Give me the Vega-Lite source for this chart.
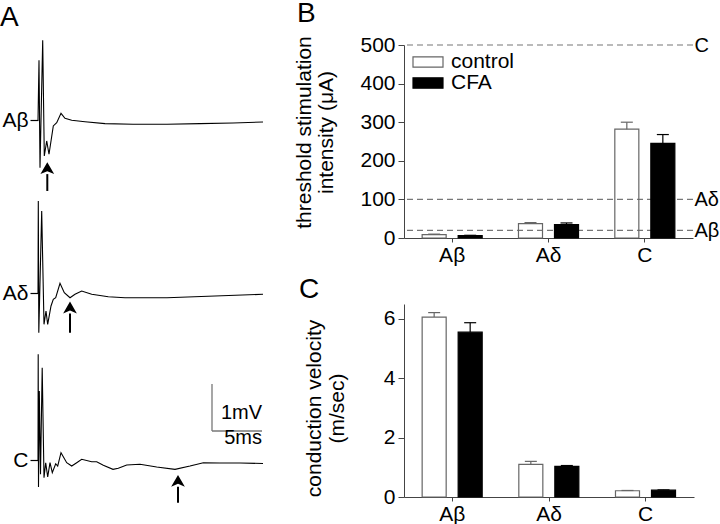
{
  "$schema": "https://vega.github.io/schema/vega-lite/v6.json",
  "padding": 0,
  "background": "white",
  "config": {
    "font": "Liberation Sans",
    "view": {"stroke": null},
    "title": {"fontSize": 28, "fontWeight": "normal", "anchor": "start", "frame": "group", "color": "black"},
    "axis": {"labelColor": "black", "titleColor": "black", "titleFontWeight": "normal", "grid": false}
  },
  "datasets": {
    "traces": [
      {"fiber": "Aβ", "t": 0, "v": 0}, {"fiber": "Aβ", "t": 0.1, "v": 1.277}, {"fiber": "Aβ", "t": 0.2, "v": -1.009},
      {"fiber": "Aβ", "t": 0.47, "v": 1.702}, {"fiber": "Aβ", "t": 0.63, "v": -0.76}, {"fiber": "Aβ", "t": 0.87, "v": -0.44},
      {"fiber": "Aβ", "t": 1.1, "v": -0.723}, {"fiber": "Aβ", "t": 1.53, "v": -0.121}, {"fiber": "Aβ", "t": 1.87, "v": -0.051},
      {"fiber": "Aβ", "t": 2.3, "v": 0.149}, {"fiber": "Aβ", "t": 2.7, "v": 0.043}, {"fiber": "Aβ", "t": 3.37, "v": 0},
      {"fiber": "Aβ", "t": 4.7, "v": -0.03}, {"fiber": "Aβ", "t": 6.7, "v": -0.072}, {"fiber": "Aβ", "t": 9.5, "v": -0.085},
      {"fiber": "Aβ", "t": 12.9, "v": -0.085}, {"fiber": "Aβ", "t": 16.2, "v": -0.072}, {"fiber": "Aβ", "t": 19.5, "v": -0.057},
      {"fiber": "Aβ", "t": 22.5, "v": -0.036},
      {"fiber": "Aδ", "t": 0, "v": 0}, {"fiber": "Aδ", "t": 0.03, "v": 1.964}, {"fiber": "Aδ", "t": 0.08, "v": -0.838},
      {"fiber": "Aδ", "t": 0.37, "v": 1.751}, {"fiber": "Aδ", "t": 0.6, "v": -0.66}, {"fiber": "Aδ", "t": 0.8, "v": -0.377},
      {"fiber": "Aδ", "t": 0.97, "v": -0.66}, {"fiber": "Aδ", "t": 1.3, "v": -0.27}, {"fiber": "Aδ", "t": 1.53, "v": -0.128},
      {"fiber": "Aδ", "t": 1.77, "v": -0.094}, {"fiber": "Aδ", "t": 2.2, "v": 0.213}, {"fiber": "Aδ", "t": 2.63, "v": 0.013},
      {"fiber": "Aδ", "t": 3.2, "v": -0.094}, {"fiber": "Aδ", "t": 3.7, "v": -0.021}, {"fiber": "Aδ", "t": 4.37, "v": 0.049},
      {"fiber": "Aδ", "t": 5.37, "v": -0.021}, {"fiber": "Aδ", "t": 7.03, "v": -0.072}, {"fiber": "Aδ", "t": 8.7, "v": -0.094},
      {"fiber": "Aδ", "t": 12.9, "v": -0.094}, {"fiber": "Aδ", "t": 17.7, "v": -0.057}, {"fiber": "Aδ", "t": 22.5, "v": -0.021},
      {"fiber": "C", "t": 0, "v": 0}, {"fiber": "C", "t": 0.02, "v": 2.249}, {"fiber": "C", "t": 0.05, "v": -0.574},
      {"fiber": "C", "t": 0.13, "v": 1.468}, {"fiber": "C", "t": 0.25, "v": -0.3}, {"fiber": "C", "t": 0.42, "v": 1.964},
      {"fiber": "C", "t": 0.6, "v": -0.377}, {"fiber": "C", "t": 0.77, "v": -0.057}, {"fiber": "C", "t": 0.97, "v": -0.362},
      {"fiber": "C", "t": 1.2, "v": -0.057}, {"fiber": "C", "t": 1.43, "v": -0.27}, {"fiber": "C", "t": 1.77, "v": -0.079},
      {"fiber": "C", "t": 1.97, "v": -0.128}, {"fiber": "C", "t": 2.3, "v": 0.155}, {"fiber": "C", "t": 2.87, "v": -0.057},
      {"fiber": "C", "t": 3.37, "v": -0.128}, {"fiber": "C", "t": 3.87, "v": -0.057}, {"fiber": "C", "t": 4.37, "v": 0.015},
      {"fiber": "C", "t": 5.37, "v": -0.036}, {"fiber": "C", "t": 5.87, "v": -0.036}, {"fiber": "C", "t": 6.53, "v": -0.113},
      {"fiber": "C", "t": 7.5, "v": -0.198}, {"fiber": "C", "t": 8.03, "v": -0.177}, {"fiber": "C", "t": 8.87, "v": -0.106},
      {"fiber": "C", "t": 10.2, "v": -0.091}, {"fiber": "C", "t": 11.87, "v": -0.149}, {"fiber": "C", "t": 13.7, "v": -0.198},
      {"fiber": "C", "t": 15.2, "v": -0.128}, {"fiber": "C", "t": 16.53, "v": -0.057}, {"fiber": "C", "t": 18.2, "v": -0.064},
      {"fiber": "C", "t": 20.2, "v": -0.064}, {"fiber": "C", "t": 22.5, "v": -0.074}
    ],
    "arrows": [
      {"fiber": "Aβ", "t": 0.93, "base": -1.145, "bottom": -1.504},
      {"fiber": "Aδ", "t": 3.2, "base": -0.428, "bottom": -0.838},
      {"fiber": "C", "t": 14.0, "base": -0.568, "bottom": -0.909}
    ],
    "scalebar": [
      {"t": 17.4, "t2": 17.4, "v": 0.617, "v2": 1.617},
      {"t": 17.4, "t2": 22.4, "v": 0.617, "v2": 0.617}
    ],
    "scalelabels": [
      {"t": 22.4, "v": 0.866, "label": "1mV"},
      {"t": 22.4, "v": 0.334, "label": "5ms"}
    ],
    "threshold": [
      {"fiber": "Aβ", "group": "control", "value": 9, "upper": 10},
      {"fiber": "Aβ", "group": "CFA", "value": 6, "upper": 7},
      {"fiber": "Aδ", "group": "control", "value": 37, "upper": 40},
      {"fiber": "Aδ", "group": "CFA", "value": 35, "upper": 39},
      {"fiber": "C", "group": "control", "value": 282, "upper": 300},
      {"fiber": "C", "group": "CFA", "value": 245, "upper": 268}
    ],
    "levels": [
      {"level": 20, "label": "Aβ"},
      {"level": 100, "label": "Aδ"},
      {"level": 500, "label": "C"}
    ],
    "velocity": [
      {"fiber": "Aβ", "group": "control", "value": 6.06, "upper": 6.21},
      {"fiber": "Aβ", "group": "CFA", "value": 5.55, "upper": 5.87},
      {"fiber": "Aδ", "group": "control", "value": 1.1, "upper": 1.2},
      {"fiber": "Aδ", "group": "CFA", "value": 1.03, "upper": 1.06},
      {"fiber": "C", "group": "control", "value": 0.21, "upper": 0.22},
      {"fiber": "C", "group": "CFA", "value": 0.23, "upper": 0.24}
    ]
  },
  "hconcat": [
    {
      "vconcat": [
        {
          "width": 225, "height": 151,
          "title": {"text": "A", "dx": -38, "offset": 6},
          "layer": [
            {
              "data": {"name": "traces"}, "transform": [{"filter": "datum.fiber === 'Aβ'"}],
              "mark": {"type": "line", "color": "black", "strokeWidth": 1.1, "clip": false},
              "encoding": {
                "x": {"field": "t", "type": "quantitative", "scale": {"domain": [0, 22.5], "nice": false, "zero": false}, "axis": null},
                "y": {"field": "v", "type": "quantitative", "scale": {"domain": [-1.611, 1.602], "nice": false, "zero": false},
                  "axis": {"values": [0], "labelExpr": "'Aβ'", "title": null, "domain": false, "ticks": true, "tickSize": 8, "tickColor": "black", "tickWidth": 1.2, "labelFontSize": 21, "labelPadding": 2}}
              }
            },
            {
              "data": {"name": "arrows"}, "transform": [{"filter": "datum.fiber === 'Aβ'"}],
              "mark": {"type": "rule", "color": "black", "strokeWidth": 2},
              "encoding": {
                "x": {"field": "t", "type": "quantitative", "axis": null},
                "y": {"field": "base", "type": "quantitative", "axis": null},
                "y2": {"field": "bottom"}
              }
            },
            {
              "data": {"name": "arrows"}, "transform": [{"filter": "datum.fiber === 'Aβ'"}],
              "mark": {"type": "point", "shape": "M0,-1L0.58,0L0,-0.25L-0.58,0Z", "filled": true, "color": "black", "opacity": 1, "size": 560},
              "encoding": {
                "x": {"field": "t", "type": "quantitative", "axis": null},
                "y": {"field": "base", "type": "quantitative", "axis": null}
              }
            }
          ],
          "resolve": {"axis": {"x": "independent", "y": "independent"}}
        },
        {
          "width": 225, "height": 150,
          "layer": [
            {
              "data": {"name": "traces"}, "transform": [{"filter": "datum.fiber === 'Aδ'"}],
              "mark": {"type": "line", "color": "black", "strokeWidth": 1.1, "clip": false},
              "encoding": {
                "x": {"field": "t", "type": "quantitative", "scale": {"domain": [0, 22.5], "nice": false, "zero": false}, "axis": null},
                "y": {"field": "v", "type": "quantitative", "scale": {"domain": [-1.121, 2.07], "nice": false, "zero": false},
                  "axis": {"values": [0], "labelExpr": "'Aδ'", "title": null, "domain": false, "ticks": true, "tickSize": 8, "tickColor": "black", "tickWidth": 1.2, "labelFontSize": 21, "labelPadding": 2}}
              }
            },
            {
              "data": {"name": "arrows"}, "transform": [{"filter": "datum.fiber === 'Aδ'"}],
              "mark": {"type": "rule", "color": "black", "strokeWidth": 2},
              "encoding": {
                "x": {"field": "t", "type": "quantitative", "axis": null},
                "y": {"field": "base", "type": "quantitative", "axis": null},
                "y2": {"field": "bottom"}
              }
            },
            {
              "data": {"name": "arrows"}, "transform": [{"filter": "datum.fiber === 'Aδ'"}],
              "mark": {"type": "point", "shape": "M0,-1L0.58,0L0,-0.25L-0.58,0Z", "filled": true, "color": "black", "opacity": 1, "size": 560},
              "encoding": {
                "x": {"field": "t", "type": "quantitative", "axis": null},
                "y": {"field": "base", "type": "quantitative", "axis": null}
              }
            }
          ],
          "resolve": {"axis": {"x": "independent", "y": "independent"}}
        },
        {
          "width": 225, "height": 170,
          "layer": [
            {
              "data": {"name": "traces"}, "transform": [{"filter": "datum.fiber === 'C'"}],
              "mark": {"type": "line", "color": "black", "strokeWidth": 1.1, "clip": false},
              "encoding": {
                "x": {"field": "t", "type": "quantitative", "scale": {"domain": [0, 22.5], "nice": false, "zero": false}, "axis": null},
                "y": {"field": "v", "type": "quantitative", "scale": {"domain": [-1.191, 2.426], "nice": false, "zero": false},
                  "axis": {"values": [0], "labelExpr": "'C'", "title": null, "domain": false, "ticks": true, "tickSize": 8, "tickColor": "black", "tickWidth": 1.2, "labelFontSize": 21, "labelPadding": 2}}
              }
            },
            {
              "data": {"name": "arrows"}, "transform": [{"filter": "datum.fiber === 'C'"}],
              "mark": {"type": "rule", "color": "black", "strokeWidth": 2},
              "encoding": {
                "x": {"field": "t", "type": "quantitative", "axis": null},
                "y": {"field": "base", "type": "quantitative", "axis": null},
                "y2": {"field": "bottom"}
              }
            },
            {
              "data": {"name": "arrows"}, "transform": [{"filter": "datum.fiber === 'C'"}],
              "mark": {"type": "point", "shape": "M0,-1L0.58,0L0,-0.25L-0.58,0Z", "filled": true, "color": "black", "opacity": 1, "size": 560},
              "encoding": {
                "x": {"field": "t", "type": "quantitative", "axis": null},
                "y": {"field": "base", "type": "quantitative", "axis": null}
              }
            },
            {
              "data": {"name": "scalebar"},
              "mark": {"type": "rule", "color": "#777777", "strokeWidth": 1.3},
              "encoding": {
                "x": {"field": "t", "type": "quantitative", "axis": null},
                "x2": {"field": "t2"},
                "y": {"field": "v", "type": "quantitative", "axis": null},
                "y2": {"field": "v2"}
              }
            },
            {
              "data": {"name": "scalelabels"},
              "mark": {"type": "text", "align": "right", "baseline": "alphabetic", "fontSize": 20, "color": "black"},
              "encoding": {
                "x": {"field": "t", "type": "quantitative", "axis": null},
                "y": {"field": "v", "type": "quantitative", "axis": null},
                "text": {"field": "label"}
              }
            }
          ],
          "resolve": {"axis": {"x": "independent", "y": "independent"}}
        }
      ],
      "spacing": 0,
      "bounds": "flush"
    },
    {
      "vconcat": [
        {
          "width": 289, "height": 193,
          "title": {"text": "B", "dx": -107, "offset": 6},
          "layer": [
            {
              "data": {"name": "levels"},
              "mark": {"type": "rule", "strokeDash": [6, 4], "color": "#777777", "strokeWidth": 1.2},
              "encoding": {
                "y": {"field": "level", "type": "quantitative", "scale": {"domain": [0, 500], "nice": false},
                  "axis": {"orient": "right", "values": [20, 100, 500], "labelExpr": "datum.value == 20 ? 'Aβ' : (datum.value == 100 ? 'Aδ' : 'C')", "domain": false, "ticks": false, "title": null, "labelFontSize": 20, "labelPadding": 1}}
              }
            },
            {
              "data": {"name": "threshold"},
              "mark": {"type": "bar", "strokeWidth": 1.2},
              "encoding": {
                "x": {"field": "fiber", "type": "nominal", "sort": ["Aβ", "Aδ", "C"], "scale": {"paddingInner": 0, "paddingOuter": 0},
                  "axis": {"title": null, "labelAngle": 0, "labelFontSize": 21, "labelPadding": 2, "ticks": true, "tickSize": 4, "domainColor": "#444444", "tickColor": "#444444"}},
                "xOffset": {"field": "group", "type": "nominal", "sort": ["control", "CFA"], "scale": {"paddingInner": 0.333, "paddingOuter": 0.504}},
                "y": {"field": "value", "type": "quantitative", "scale": {"domain": [0, 500], "nice": false},
                  "axis": {"values": [0, 100, 200, 300, 400, 500], "title": ["threshold stimulation", "intensity (μA)"], "titleFontSize": 21, "titleLineHeight": 22, "titlePadding": 23, "titleY": 87, "labelFontSize": 21, "labelPadding": 3, "tickSize": 6, "domainColor": "#444444", "tickColor": "#444444"}},
                "fill": {"field": "group", "type": "nominal", "scale": {"domain": ["control", "CFA"], "range": ["transparent", "black"]},
                  "legend": {"title": null, "orient": "none", "legendX": 13, "legendY": 6, "padding": 0, "labelFontSize": 21, "labelColor": "black", "symbolType": "M-1.5,-0.52L1.5,-0.52L1.5,0.52L-1.5,0.52Z", "symbolSize": 400, "symbolStrokeWidth": 1.2, "labelOffset": 12, "rowPadding": 0}},
                "stroke": {"field": "group", "type": "nominal", "scale": {"domain": ["control", "CFA"], "range": ["#666666", "black"]},
                  "legend": {"title": null, "orient": "none", "legendX": 13, "legendY": 6, "padding": 0, "labelFontSize": 21, "labelColor": "black", "symbolType": "M-1.5,-0.52L1.5,-0.52L1.5,0.52L-1.5,0.52Z", "symbolSize": 400, "symbolStrokeWidth": 1.2, "labelOffset": 12, "rowPadding": 0}}
              }
            },
            {
              "data": {"name": "threshold"},
              "mark": {"type": "rule", "strokeWidth": 1.2},
              "encoding": {
                "x": {"field": "fiber", "type": "nominal", "sort": ["Aβ", "Aδ", "C"], "title": null},
                "xOffset": {"field": "group", "type": "nominal", "sort": ["control", "CFA"]},
                "y": {"field": "value", "type": "quantitative", "axis": null},
                "y2": {"field": "upper"},
                "stroke": {"field": "group", "type": "nominal"}
              }
            },
            {
              "data": {"name": "threshold"},
              "mark": {"type": "tick", "orient": "horizontal", "size": 12, "thickness": 1.2, "opacity": 1},
              "encoding": {
                "x": {"field": "fiber", "type": "nominal", "sort": ["Aβ", "Aδ", "C"], "title": null},
                "xOffset": {"field": "group", "type": "nominal", "sort": ["control", "CFA"]},
                "y": {"field": "upper", "type": "quantitative", "axis": null},
                "color": {"field": "group", "type": "nominal", "scale": {"domain": ["control", "CFA"], "range": ["#666666", "black"]}, "legend": null}
              }
            }
          ],
          "resolve": {"axis": {"y": "independent"}}
        },
        {
          "width": 290, "height": 193,
          "title": {"text": "C", "dx": -105, "offset": 0},
          "data": {"name": "velocity"},
          "layer": [
            {
              "mark": {"type": "bar", "strokeWidth": 1.2},
              "encoding": {
                "x": {"field": "fiber", "type": "nominal", "sort": ["Aβ", "Aδ", "C"], "scale": {"paddingInner": 0, "paddingOuter": 0},
                  "axis": {"title": null, "labelAngle": 0, "labelFontSize": 21, "labelPadding": 2, "ticks": true, "tickSize": 4, "domainColor": "#444444", "tickColor": "#444444"}},
                "xOffset": {"field": "group", "type": "nominal", "sort": ["control", "CFA"], "scale": {"paddingInner": 0.333, "paddingOuter": 0.504}},
                "y": {"field": "value", "type": "quantitative", "scale": {"domain": [0, 6.5], "nice": false},
                  "axis": {"values": [0, 2, 4, 6], "title": ["conduction velocity", "(m/sec)"], "titleFontSize": 21, "titleLineHeight": 23, "titlePadding": 36, "titleY": 104, "labelFontSize": 21, "labelPadding": 3, "tickSize": 6, "domainColor": "#444444", "tickColor": "#444444"}},
                "fill": {"field": "group", "type": "nominal", "scale": {"domain": ["control", "CFA"], "range": ["transparent", "black"]}, "legend": null},
                "stroke": {"field": "group", "type": "nominal", "scale": {"domain": ["control", "CFA"], "range": ["#666666", "black"]}, "legend": null}
              }
            },
            {
              "mark": {"type": "rule", "strokeWidth": 1.2},
              "encoding": {
                "x": {"field": "fiber", "type": "nominal", "sort": ["Aβ", "Aδ", "C"], "title": null},
                "xOffset": {"field": "group", "type": "nominal", "sort": ["control", "CFA"]},
                "y": {"field": "value", "type": "quantitative", "axis": null},
                "y2": {"field": "upper"},
                "stroke": {"field": "group", "type": "nominal", "legend": null}
              }
            },
            {
              "mark": {"type": "tick", "orient": "horizontal", "size": 12, "thickness": 1.2, "opacity": 1},
              "encoding": {
                "x": {"field": "fiber", "type": "nominal", "sort": ["Aβ", "Aδ", "C"], "title": null},
                "xOffset": {"field": "group", "type": "nominal", "sort": ["control", "CFA"]},
                "y": {"field": "upper", "type": "quantitative", "axis": null},
                "color": {"field": "group", "type": "nominal", "scale": {"domain": ["control", "CFA"], "range": ["#666666", "black"]}, "legend": null}
              }
            }
          ],
          "resolve": {"axis": {"y": "independent"}}
        }
      ],
      "spacing": 66,
      "bounds": "flush",
      "resolve": {"scale": {"fill": "independent", "stroke": "independent", "color": "independent"}}
    }
  ],
  "spacing": 27,
  "resolve": {"scale": {"fill": "independent", "stroke": "independent", "color": "independent"}}
}
